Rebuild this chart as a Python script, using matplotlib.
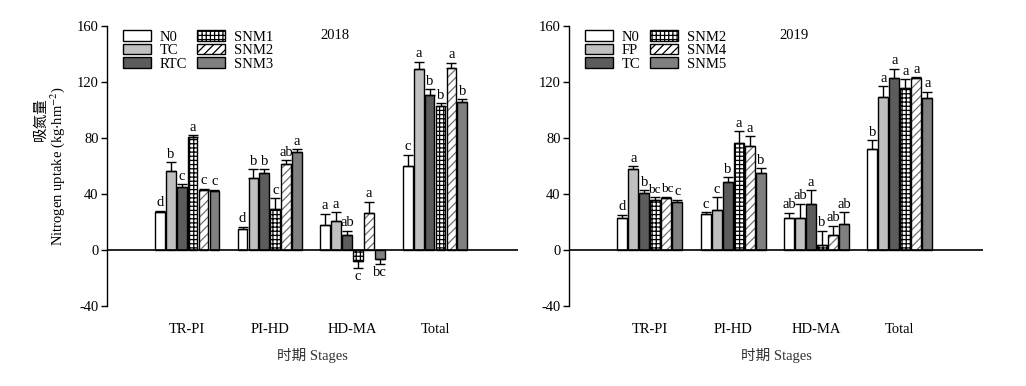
import numpy as np
import matplotlib
matplotlib.use("Agg")
import matplotlib.pyplot as plt
import matplotlib.patches as mp

plt.rcParams['font.family'] = ['Liberation Serif', 'Noto Sans CJK SC', 'DejaVu Sans']
plt.rcParams['mathtext.fontset'] = 'stix'
plt.rcParams['hatch.linewidth'] = 0.9
plt.rcParams['axes.unicode_minus'] = False

stages = ["TR-PI", "PI-HD", "HD-MA", "Total"]

# ---- 2018 ----
names_2018 = ["N0", "TC", "RTC", "SNM1", "SNM2", "SNM3"]
vals_2018 = {
    "N0":   [27.0, 15.0, 17.8, 59.8],
    "TC":   [56.7, 51.3, 20.6, 129.6],
    "RTC":  [44.9, 54.8, 10.7, 110.4],
    "SNM1": [80.9, 29.6, -7.9, 102.6],
    "SNM2": [42.7, 61.2, 26.3, 130.3],
    "SNM3": [42.3, 69.8, -6.4, 105.4],
}
errs_2018 = {
    "N0":   [0.8, 1.5, 7.8, 8.0],
    "TC":   [6.0, 6.4, 6.4, 5.0],
    "RTC":  [2.1, 2.9, 2.8, 4.3],
    "SNM1": [1.0, 7.2, 5.0, 2.1],
    "SNM2": [1.0, 2.9, 7.9, 3.6],
    "SNM3": [0.6, 2.1, 3.6, 2.2],
}
letters_2018 = {
    "N0":   ["d", "d", "a", "c"],
    "TC":   ["b", "b", "a", "a"],
    "RTC":  ["c", "b", "ab", "b"],
    "SNM1": ["a", "c", "c", "b"],
    "SNM2": ["c", "ab", "a", "a"],
    "SNM3": ["c", "a", "bc", "b"],
}

# ---- 2019 ----
names_2019 = ["N0", "FP", "TC", "SNM2", "SNM4", "SNM5"]
vals_2019 = {
    "N0":   [22.8, 25.6, 22.8, 71.9],
    "FP":   [57.7, 28.5, 22.8, 109.0],
    "TC":   [40.8, 48.4, 32.8, 122.5],
    "SNM2": [35.6, 76.2, 3.6, 115.4],
    "SNM4": [37.5, 74.1, 10.7, 123.0],
    "SNM5": [34.2, 54.8, 18.5, 108.3],
}
errs_2019 = {
    "N0":   [2.1, 1.4, 3.5, 6.4],
    "FP":   [2.1, 9.2, 10.0, 7.8],
    "TC":   [1.9, 3.6, 9.9, 7.1],
    "SNM2": [2.1, 8.5, 9.9, 6.4],
    "SNM4": [0.4, 7.1, 6.4, 0.4],
    "SNM5": [1.4, 3.6, 8.5, 4.9],
}
letters_2019 = {
    "N0":   ["d", "c", "ab", "b"],
    "FP":   ["a", "c", "ab", "a"],
    "TC":   ["b", "b", "a", "a"],
    "SNM2": ["bc", "a", "b", "a"],
    "SNM4": ["bc", "a", "ab", "a"],
    "SNM5": ["c", "b", "ab", "a"],
}

# styles by position (fill, hatch, hatch colour)
styles = [
    ("white", None, None),
    ("#c0c0c0", None, None),
    ("#5c5c5c", None, None),
    ("white", "++++", "black"),
    ("white", "////", "#707070"),
    ("#808080", None, None),
]

FS = 10.5

fig = plt.figure(figsize=(10.26, 3.86), dpi=100)
W, H = 1026, 386
ybot, ytop = 306, 26
axL = fig.add_axes([107 / W, (H - ybot) / H, (517.7 - 107) / W, (ybot - ytop) / H])
axR = fig.add_axes([569 / W, (H - ybot) / H, (983 - 569) / W, (ybot - ytop) / H])

pitch = 0.132
bw = 0.118
x = np.arange(len(stages))


def draw(ax, names, vals, errs, letters, year, yearx):
    handles = []
    n = len(names)
    for i, nm in enumerate(names):
        fc, hatch, hc = styles[i]
        pos = x + (i - 2.5) * pitch
        v = np.array(vals[nm])
        e = np.array(errs[nm])
        if hatch:
            ax.bar(pos, v, bw, color=fc, edgecolor=hc, hatch=hatch, linewidth=0, zorder=2)
            ax.bar(pos, v, bw, color='none', edgecolor='black', linewidth=1.0, zorder=3)
            hp = mp.Patch(facecolor=fc, edgecolor='black', hatch=hatch, linewidth=1.0)
        else:
            ax.bar(pos, v, bw, color=fc, edgecolor='black', linewidth=1.0, zorder=3)
            hp = mp.Patch(facecolor=fc, edgecolor='black', linewidth=1.0)
        handles.append((hp, nm))
        lower = np.where(v < 0, e, 0)
        upper = np.where(v >= 0, e, 0)
        ax.errorbar(pos, v, yerr=[lower, upper], fmt='none', ecolor='black',
                    elinewidth=1.0, capsize=3.8, capthick=1.0, zorder=4)
        for j in range(len(stages)):
            lab = letters[nm][j]
            fs = FS
            dx = 0.0
            # crowded two-letter neighbours: shrink slightly and spread apart
            prev_lab = letters[names[i - 1]][j] if i > 0 else ""
            next_lab = letters[names[i + 1]][j] if i < n - 1 else ""
            if len(lab) == 2 and (len(prev_lab) == 2 or len(next_lab) == 2):
                top_here = vals[nm][j] + errs[nm][j]
                close = False
                if len(next_lab) == 2:
                    t2 = vals[names[i + 1]][j] + errs[names[i + 1]][j]
                    if abs(t2 - top_here) < 5:
                        close = True
                        dx = -0.012
                if len(prev_lab) == 2:
                    t2 = vals[names[i - 1]][j] + errs[names[i - 1]][j]
                    if abs(t2 - top_here) < 5:
                        close = True
                        dx = 0.012
                if close:
                    fs = 9.5
            if v[j] >= 0:
                ax.text(pos[j] + dx, v[j] + e[j] + 1.2, lab, ha='center',
                        va='bottom', fontsize=fs)
            else:
                ax.text(pos[j] + dx, v[j] - e[j] - 1.2, lab, ha='center',
                        va='top', fontsize=fs)
    ax.axhline(0, color='black', linewidth=1.2, zorder=5)
    ax.set_xlim(-0.97, 4.0)
    ax.set_ylim(-40, 160)
    ax.set_yticks([-40, 0, 40, 80, 120, 160])
    ax.set_xticks(x)
    ax.set_xticklabels(stages, fontsize=FS)
    for s in ['top', 'right', 'bottom']:
        ax.spines[s].set_visible(False)
    ax.spines['left'].set_linewidth(1.0)
    ax.tick_params(axis='y', direction='out', length=4, width=1, labelsize=FS, pad=2)
    ax.tick_params(axis='x', length=0, pad=12)
    ax.set_xlabel("时期 Stages", fontsize=FS, labelpad=9, color='#333333')
    ax.legend([h for h, _ in handles], [nm for _, nm in handles], ncol=2,
              loc='upper left', bbox_to_anchor=(0.025, 1.005), frameon=False,
              fontsize=FS, handlelength=1.9, handleheight=0.7,
              labelspacing=0.02, columnspacing=0.7, handletextpad=0.6,
              borderaxespad=0.0)
    ax.text(yearx, 153, year, fontsize=FS, ha='left', va='center')


draw(axL, names_2018, vals_2018, errs_2018, letters_2018, "2018", 1.61)
draw(axR, names_2019, vals_2019, errs_2019, letters_2019, "2019", 1.56)

fig.text(41 / W, 1 - 119 / H, "吸氮量", rotation=90, ha='center', va='center', fontsize=FS)
fig.text(58 / W, 1 - 166 / H, r"Nitrogen uptake (kg$\cdot$hm$^{-2}$)", rotation=90,
         ha='center', va='center', fontsize=FS)

fig.savefig("out.png", dpi=100)
